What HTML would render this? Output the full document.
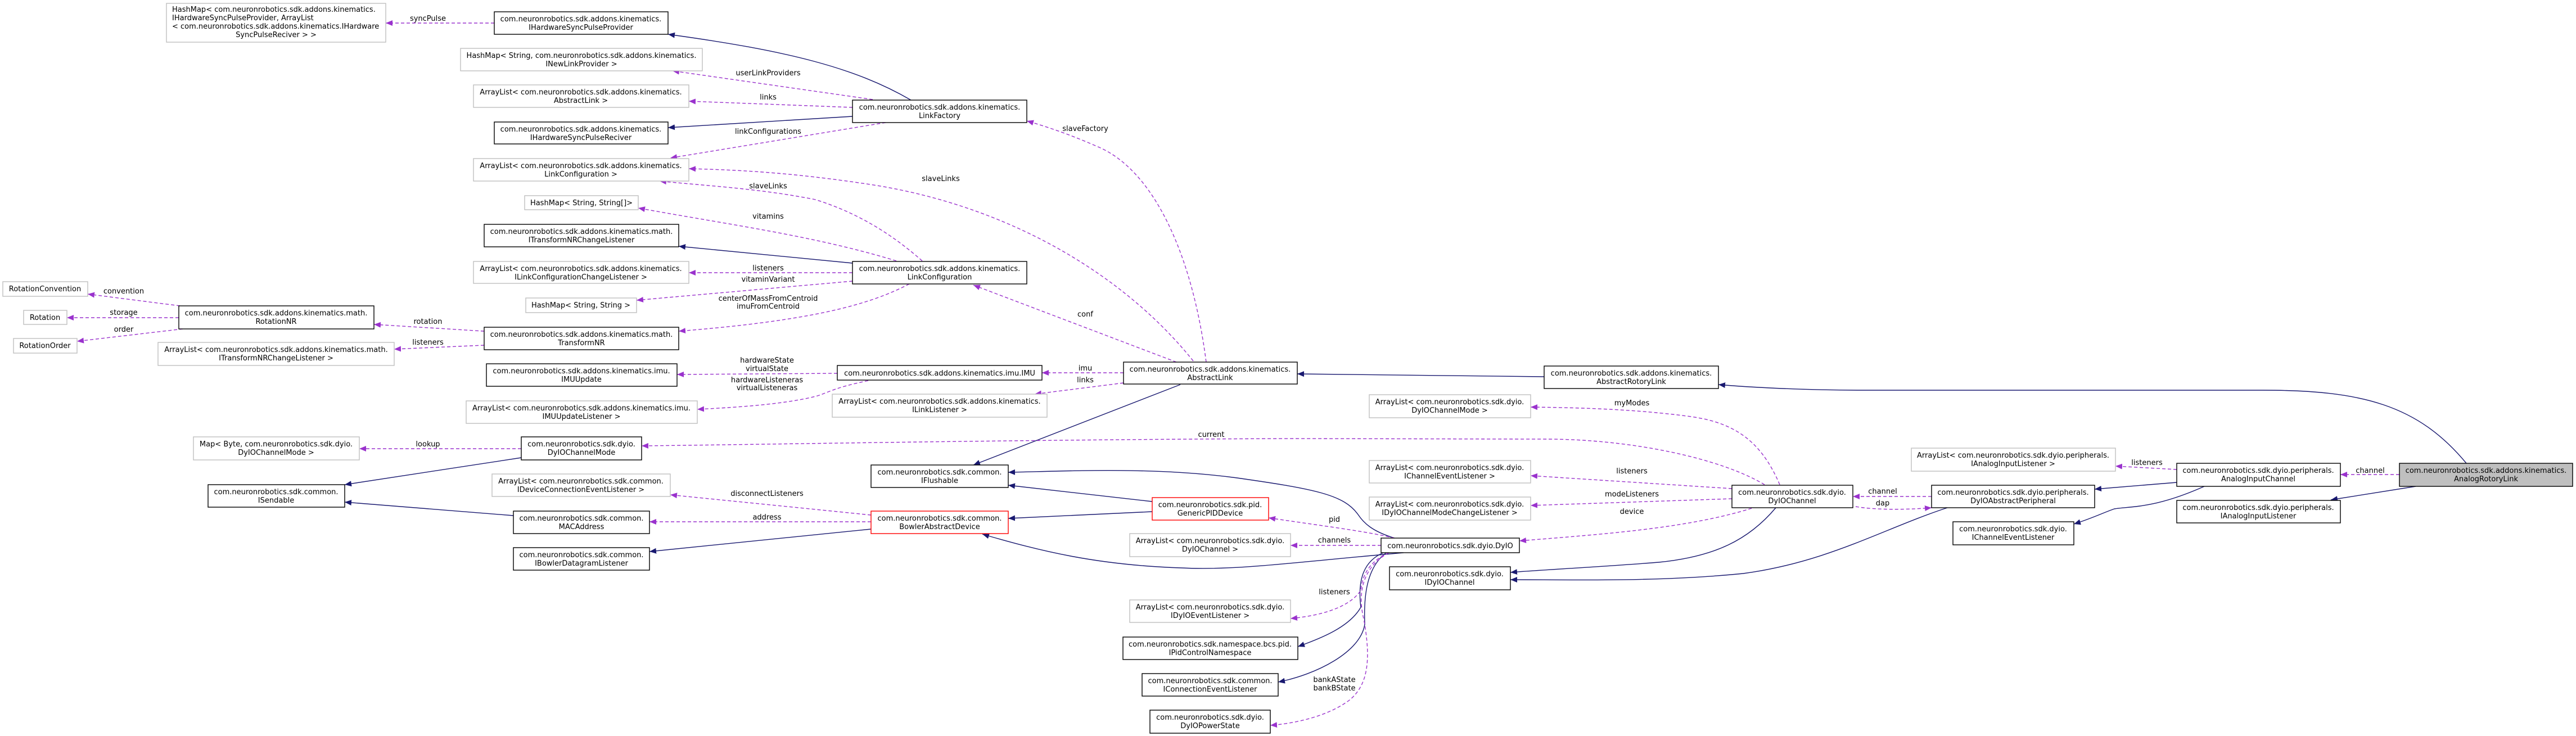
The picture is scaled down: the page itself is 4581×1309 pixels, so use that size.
<!DOCTYPE html>
<html><head><meta charset="utf-8"><style>
html,body{margin:0;padding:0;background:#fff;}
svg{display:block;}
text{font-family:"DejaVu Sans","Liberation Sans",sans-serif;font-size:13px;fill:#000;}
.nb{fill:#fff;stroke:#000;stroke-width:1.4;}
.ng{fill:#fff;stroke:#bfbfbf;stroke-width:1.4;}
.nr{fill:#fff;stroke:#ff0000;stroke-width:1.4;}
.s{fill:none;stroke:#191970;stroke-width:1.4;}
.d{fill:none;stroke:#9a32cd;stroke-width:1.4;stroke-dasharray:6,4;}
</style></head><body>
<svg width="4581" height="1309" viewBox="0 0 4581 1309" xmlns="http://www.w3.org/2000/svg">
<defs>
<marker id="an" markerUnits="userSpaceOnUse" markerWidth="14" markerHeight="10" refX="12" refY="5" orient="auto"><path d="M0,0 L12,5 L0,10 z" fill="#191970"/></marker>
<marker id="ap" markerUnits="userSpaceOnUse" markerWidth="14" markerHeight="10" refX="12" refY="5" orient="auto"><path d="M0,0 L12,5 L0,10 z" fill="#9a32cd"/></marker>
</defs>

<!-- solid edges -->
<g>
<path class="s" marker-end="url(#an)" d="M1620,178 C1520,120 1400,90 1188,61"/>
<path class="s" marker-end="url(#an)" d="M1516,207 L1188,227"/>
<path class="s" marker-end="url(#an)" d="M1516,468 L1207,438"/>
<path class="s" marker-end="url(#an)" d="M2099,684 L1731,827"/>
<path class="s" marker-end="url(#an)" d="M2746,670 L2307,665"/>
<path class="s" marker-end="url(#an)" d="M4386,824 C4300,720 4200,694 4025,694 L3310,694 C3200,694 3100,688 3056,684"/>
<path class="s" marker-end="url(#an)" d="M927,814 L613,862"/>
<path class="s" marker-end="url(#an)" d="M913,917 L613,893"/>
<path class="s" marker-end="url(#an)" d="M1549,941 L1155,981"/>
<path class="s" marker-end="url(#an)" d="M2049,892 L1793,863"/>
<path class="s" marker-end="url(#an)" d="M2049,910 L1793,922"/>
<path class="s" marker-end="url(#an)" d="M2480,957 C2440,945 2425,930 2415,915 C2390,880 2340,870 2200,850 C2050,830 1900,838 1793,840"/>
<path class="s" marker-end="url(#an)" d="M2496,983 C2300,1000 2200,1015 2100,1010 C1950,1005 1850,980 1747,950"/>
<path class="s" marker-end="url(#an)" d="M2460,983 C2420,1000 2415,1040 2420,1080 C2400,1115 2350,1135 2308,1150"/>
<path class="s" marker-end="url(#an)" d="M2465,983 C2430,1010 2425,1060 2427,1110 C2420,1160 2340,1200 2273,1213"/>
<path class="s" marker-end="url(#an)" d="M3158,903 C3110,960 3050,990 2950,1000 C2850,1008 2750,1013 2686,1018"/>
<path class="s" marker-end="url(#an)" d="M3463,903 C3350,940 3250,1000 3100,1020 C2950,1035 2800,1031 2686,1031"/>
<path class="s" marker-end="url(#an)" d="M3871,858 L3725,870"/>
<path class="s" marker-end="url(#an)" d="M3920,865 C3830,905 3790,900 3760,905 C3740,912 3720,922 3688,932"/>
<path class="s" marker-end="url(#an)" d="M4296,865 L4145,889"/>
</g>

<!-- dashed edges -->
<g>
<path class="d" marker-end="url(#ap)" d="M879,41 L686,41"/>
<path class="d" marker-end="url(#ap)" d="M1552,177 L1196,126"/>
<path class="d" marker-end="url(#ap)" d="M1516,191 L1225,180"/>
<path class="d" marker-end="url(#ap)" d="M1575,218 L1192,281"/>
<path class="d" marker-end="url(#ap)" d="M2122,642 C2000,490 1800,370 1560,330 C1400,305 1300,302 1225,300"/>
<path class="d" marker-end="url(#ap)" d="M1640,464 C1590,420 1530,380 1450,355 C1350,335 1250,330 1173,322"/>
<path class="d" marker-end="url(#ap)" d="M1594,464 C1450,420 1300,400 1135,370"/>
<path class="d" marker-end="url(#ap)" d="M1516,485 L1225,485"/>
<path class="d" marker-end="url(#ap)" d="M1516,500 L1132,534"/>
<path class="d" marker-end="url(#ap)" d="M1617,505 C1550,540 1450,570 1207,589"/>
<path class="d" marker-end="url(#ap)" d="M861,589 L665,577"/>
<path class="d" marker-end="url(#ap)" d="M861,614 L701,621"/>
<path class="d" marker-end="url(#ap)" d="M320,544 L156,523"/>
<path class="d" marker-end="url(#ap)" d="M318,565 L119,565"/>
<path class="d" marker-end="url(#ap)" d="M325,585 L137,607"/>
<path class="d" marker-end="url(#ap)" d="M2145,644 C2120,450 2050,300 1950,260 C1900,238 1860,225 1826,215"/>
<path class="d" marker-end="url(#ap)" d="M2092,644 L1731,507"/>
<path class="d" marker-end="url(#ap)" d="M1998,663 L1853,663"/>
<path class="d" marker-end="url(#ap)" d="M1998,681 L1840,701"/>
<path class="d" marker-end="url(#ap)" d="M1489,664 L1204,666"/>
<path class="d" marker-end="url(#ap)" d="M1544,677 C1480,690 1470,700 1450,705 C1390,720 1300,725 1240,728"/>
<path class="d" marker-end="url(#ap)" d="M3138,862 C3060,815 2900,781 2750,781 L2300,780 C1800,782 1400,790 1141,793"/>
<path class="d" marker-end="url(#ap)" d="M3165,862 C3130,780 3080,750 3000,740 C2900,727 2800,725 2722,724"/>
<path class="d" marker-end="url(#ap)" d="M3080,869 L2722,846"/>
<path class="d" marker-end="url(#ap)" d="M3080,887 L2722,899"/>
<path class="d" marker-end="url(#ap)" d="M3115,904 C3000,940 2850,950 2702,962"/>
<path class="d" marker-end="url(#ap)" d="M3435,883 L3295,883"/>
<path class="d" marker-end="url(#ap)" d="M3300,901 C3340,908 3400,906 3435,903"/>
<path class="d" marker-end="url(#ap)" d="M3871,835 L3762,829"/>
<path class="d" marker-end="url(#ap)" d="M4267,844 L4162,844"/>
<path class="d" marker-end="url(#ap)" d="M2480,957 C2430,945 2350,935 2256,921"/>
<path class="d" marker-end="url(#ap)" d="M2456,970 L2295,970"/>
<path class="d" marker-end="url(#ap)" d="M2470,983 C2430,1000 2422,1030 2420,1050 C2400,1080 2350,1095 2295,1100"/>
<path class="d" marker-end="url(#ap)" d="M2470,983 C2420,1010 2415,1060 2425,1100 C2440,1180 2430,1220 2400,1245 C2360,1275 2300,1287 2259,1290"/>
<path class="d" marker-end="url(#ap)" d="M927,798 L639,798"/>
<path class="d" marker-end="url(#ap)" d="M1549,916 L1192,880"/>
<path class="d" marker-end="url(#ap)" d="M1549,928 L1155,928"/>
</g>

<!-- edge labels -->
<g text-anchor="middle">
<text x="761" y="37">syncPulse</text>
<text x="220" y="522">convention</text>
<text x="220" y="560">storage</text>
<text x="220" y="590">order</text>
<text x="761" y="576">rotation</text>
<text x="761" y="613">listeners</text>
<text x="1366" y="134">userLinkProviders</text>
<text x="1366" y="177">links</text>
<text x="1366" y="238">linkConfigurations</text>
<text x="1366" y="335">slaveLinks</text>
<text x="1366" y="389">vitamins</text>
<text x="1366" y="481">listeners</text>
<text x="1366" y="501">vitaminVariant</text>
<text x="1366" y="535">centerOfMassFromCentroid</text>
<text x="1366" y="549">imuFromCentroid</text>
<text x="1930" y="233">slaveFactory</text>
<text x="1673" y="322">slaveLinks</text>
<text x="1930" y="563">conf</text>
<text x="1364" y="645">hardwareState</text>
<text x="1364" y="660">virtualState</text>
<text x="1364" y="680">hardwareListeneras</text>
<text x="1364" y="694">virtualListeneras</text>
<text x="1930" y="659">imu</text>
<text x="1930" y="680">links</text>
<text x="761" y="794">lookup</text>
<text x="2154" y="777">current</text>
<text x="1364" y="882">disconnectListeners</text>
<text x="1364" y="924">address</text>
<text x="2902" y="721">myModes</text>
<text x="2902" y="842">listeners</text>
<text x="2902" y="883">modeListeners</text>
<text x="2902" y="914">device</text>
<text x="3348" y="878">channel</text>
<text x="3348" y="899">dap</text>
<text x="2373" y="928">pid</text>
<text x="2373" y="965">channels</text>
<text x="2373" y="1057">listeners</text>
<text x="2373" y="1213">bankAState</text>
<text x="2373" y="1228">bankBState</text>
<text x="3818" y="827">listeners</text>
<text x="4215" y="841">channel</text>
</g>

<!-- nodes -->
<g>
<rect class="ng" x="296" y="6" width="390" height="69"/>
<text x="306" y="21">HashMap&lt; com.neuronrobotics.sdk.addons.kinematics.</text>
<text x="306" y="36">IHardwareSyncPulseProvider, ArrayList</text>
<text x="306" y="51">&lt; com.neuronrobotics.sdk.addons.kinematics.IHardware</text>
<text x="491" y="66" text-anchor="middle">SyncPulseReciver &gt; &gt;</text>
</g>
<g text-anchor="middle">
<rect class="nb" x="879" y="21" width="309" height="40"/>
<text x="1033" y="38">com.neuronrobotics.sdk.addons.kinematics.</text><text x="1033" y="53">IHardwareSyncPulseProvider</text>

<rect class="ng" x="819" y="86" width="430" height="40"/>
<text x="1034" y="103">HashMap&lt; String, com.neuronrobotics.sdk.addons.kinematics.</text><text x="1034" y="118">INewLinkProvider &gt;</text>

<rect class="ng" x="842" y="151" width="383" height="40"/>
<text x="1033" y="168">ArrayList&lt; com.neuronrobotics.sdk.addons.kinematics.</text><text x="1033" y="183">AbstractLink &gt;</text>

<rect class="nb" x="879" y="217" width="309" height="39"/>
<text x="1033" y="234">com.neuronrobotics.sdk.addons.kinematics.</text><text x="1033" y="249">IHardwareSyncPulseReciver</text>

<rect class="ng" x="842" y="282" width="383" height="40"/>
<text x="1033" y="299">ArrayList&lt; com.neuronrobotics.sdk.addons.kinematics.</text><text x="1033" y="314">LinkConfiguration &gt;</text>

<rect class="ng" x="933" y="348" width="202" height="25"/>
<text x="1034" y="365">HashMap&lt; String, String[]&gt;</text>

<rect class="nb" x="861" y="399" width="346" height="40"/>
<text x="1034" y="416">com.neuronrobotics.sdk.addons.kinematics.math.</text><text x="1034" y="431">ITransformNRChangeListener</text>

<rect class="ng" x="842" y="465" width="383" height="39"/>
<text x="1033" y="482">ArrayList&lt; com.neuronrobotics.sdk.addons.kinematics.</text><text x="1033" y="497">ILinkConfigurationChangeListener &gt;</text>

<rect class="ng" x="935" y="530" width="197" height="26"/>
<text x="1033" y="547">HashMap&lt; String, String &gt;</text>

<rect class="nb" x="861" y="582" width="346" height="40"/>
<text x="1034" y="599">com.neuronrobotics.sdk.addons.kinematics.math.</text><text x="1034" y="614">TransformNR</text>

<rect class="nb" x="865" y="647" width="339" height="40"/>
<text x="1034" y="664">com.neuronrobotics.sdk.addons.kinematics.imu.</text><text x="1034" y="679">IMUUpdate</text>

<rect class="ng" x="829" y="713" width="411" height="40"/>
<text x="1034" y="730">ArrayList&lt; com.neuronrobotics.sdk.addons.kinematics.imu.</text><text x="1034" y="745">IMUUpdateListener &gt;</text>

<rect class="nb" x="927" y="777" width="214" height="41"/>
<text x="1034" y="794">com.neuronrobotics.sdk.dyio.</text><text x="1034" y="809">DyIOChannelMode</text>

<rect class="ng" x="344" y="777" width="295" height="41"/>
<text x="491" y="794">Map&lt; Byte, com.neuronrobotics.sdk.dyio.</text><text x="491" y="809">DyIOChannelMode &gt;</text>

<rect class="nb" x="370" y="862" width="243" height="40"/>
<text x="491" y="879">com.neuronrobotics.sdk.common.</text><text x="491" y="894">ISendable</text>

<rect class="ng" x="875" y="843" width="317" height="40"/>
<text x="1033" y="860">ArrayList&lt; com.neuronrobotics.sdk.common.</text><text x="1033" y="875">IDeviceConnectionEventListener &gt;</text>

<rect class="nb" x="913" y="909" width="242" height="40"/>
<text x="1034" y="926">com.neuronrobotics.sdk.common.</text><text x="1034" y="941">MACAddress</text>

<rect class="nb" x="913" y="974" width="242" height="40"/>
<text x="1034" y="991">com.neuronrobotics.sdk.common.</text><text x="1034" y="1006">IBowlerDatagramListener</text>

<rect class="ng" x="5" y="501" width="151" height="26"/>
<text x="80" y="518">RotationConvention</text>
<rect class="ng" x="42" y="552" width="77" height="25"/>
<text x="80" y="569">Rotation</text>
<rect class="ng" x="24" y="602" width="113" height="26"/>
<text x="80" y="619">RotationOrder</text>

<rect class="nb" x="318" y="544" width="347" height="41"/>
<text x="491" y="561">com.neuronrobotics.sdk.addons.kinematics.math.</text><text x="491" y="576">RotationNR</text>

<rect class="ng" x="281" y="609" width="420" height="41"/>
<text x="491" y="626">ArrayList&lt; com.neuronrobotics.sdk.addons.kinematics.math.</text><text x="491" y="641">ITransformNRChangeListener &gt;</text>

<rect class="nb" x="1516" y="178" width="310" height="40"/>
<text x="1671" y="195">com.neuronrobotics.sdk.addons.kinematics.</text><text x="1671" y="210">LinkFactory</text>

<rect class="nb" x="1516" y="465" width="310" height="40"/>
<text x="1671" y="482">com.neuronrobotics.sdk.addons.kinematics.</text><text x="1671" y="497">LinkConfiguration</text>

<rect class="nb" x="1998" y="644" width="309" height="39"/>
<text x="2152" y="661">com.neuronrobotics.sdk.addons.kinematics.</text><text x="2152" y="676">AbstractLink</text>

<rect class="nb" x="1489" y="650" width="364" height="26"/>
<text x="1671" y="668">com.neuronrobotics.sdk.addons.kinematics.imu.IMU</text>

<rect class="ng" x="1480" y="701" width="382" height="41"/>
<text x="1671" y="718">ArrayList&lt; com.neuronrobotics.sdk.addons.kinematics.</text><text x="1671" y="733">ILinkListener &gt;</text>

<rect class="nb" x="1549" y="827" width="244" height="40"/>
<text x="1671" y="844">com.neuronrobotics.sdk.common.</text><text x="1671" y="859">IFlushable</text>

<rect class="nr" x="1549" y="909" width="244" height="40"/>
<text x="1671" y="926">com.neuronrobotics.sdk.common.</text><text x="1671" y="941">BowlerAbstractDevice</text>

<rect class="nr" x="2049" y="885" width="207" height="40"/>
<text x="2152" y="902">com.neuronrobotics.sdk.pid.</text><text x="2152" y="917">GenericPIDDevice</text>

<rect class="ng" x="2009" y="949" width="286" height="41"/>
<text x="2152" y="966">ArrayList&lt; com.neuronrobotics.sdk.dyio.</text><text x="2152" y="981">DyIOChannel &gt;</text>

<rect class="ng" x="2009" y="1067" width="286" height="40"/>
<text x="2152" y="1084">ArrayList&lt; com.neuronrobotics.sdk.dyio.</text><text x="2152" y="1099">IDyIOEventListener &gt;</text>

<rect class="nb" x="1997" y="1133" width="311" height="40"/>
<text x="2152" y="1150">com.neuronrobotics.sdk.namespace.bcs.pid.</text><text x="2152" y="1165">IPidControlNamespace</text>

<rect class="nb" x="2031" y="1198" width="242" height="40"/>
<text x="2152" y="1215">com.neuronrobotics.sdk.common.</text><text x="2152" y="1230">IConnectionEventListener</text>

<rect class="nb" x="2045" y="1263" width="214" height="41"/>
<text x="2152" y="1280">com.neuronrobotics.sdk.dyio.</text><text x="2152" y="1295">DyIOPowerState</text>

<rect class="nb" x="2746" y="651" width="310" height="40"/>
<text x="2901" y="668">com.neuronrobotics.sdk.addons.kinematics.</text><text x="2901" y="683">AbstractRotoryLink</text>

<rect class="ng" x="2435" y="702" width="287" height="41"/>
<text x="2578" y="719">ArrayList&lt; com.neuronrobotics.sdk.dyio.</text><text x="2578" y="734">DyIOChannelMode &gt;</text>

<rect class="ng" x="2435" y="819" width="287" height="40"/>
<text x="2578" y="836">ArrayList&lt; com.neuronrobotics.sdk.dyio.</text><text x="2578" y="851">IChannelEventListener &gt;</text>

<rect class="ng" x="2435" y="884" width="287" height="41"/>
<text x="2578" y="901">ArrayList&lt; com.neuronrobotics.sdk.dyio.</text><text x="2578" y="916">IDyIOChannelModeChangeListener &gt;</text>

<rect class="nb" x="3080" y="863" width="215" height="40"/>
<text x="3187" y="880">com.neuronrobotics.sdk.dyio.</text><text x="3187" y="895">DyIOChannel</text>

<rect class="nb" x="2456" y="957" width="246" height="26"/>
<text x="2579" y="975">com.neuronrobotics.sdk.dyio.DyIO</text>

<rect class="nb" x="2471" y="1008" width="215" height="41"/>
<text x="2578" y="1025">com.neuronrobotics.sdk.dyio.</text><text x="2578" y="1040">IDyIOChannel</text>

<rect class="ng" x="3399" y="797" width="363" height="41"/>
<text x="3580" y="814">ArrayList&lt; com.neuronrobotics.sdk.dyio.peripherals.</text><text x="3580" y="829">IAnalogInputListener &gt;</text>

<rect class="nb" x="3871" y="824" width="291" height="41"/>
<text x="4016" y="841">com.neuronrobotics.sdk.dyio.peripherals.</text><text x="4016" y="856">AnalogInputChannel</text>

<rect x="4267" y="824" width="308" height="41" fill="#bfbfbf" stroke="#000" stroke-width="1.4"/>
<text x="4421" y="841">com.neuronrobotics.sdk.addons.kinematics.</text><text x="4421" y="856">AnalogRotoryLink</text>

<rect class="nb" x="3435" y="863" width="290" height="40"/>
<text x="3580" y="880">com.neuronrobotics.sdk.dyio.peripherals.</text><text x="3580" y="895">DyIOAbstractPeripheral</text>

<rect class="nb" x="3473" y="928" width="215" height="41"/>
<text x="3580" y="945">com.neuronrobotics.sdk.dyio.</text><text x="3580" y="960">IChannelEventListener</text>

<rect class="nb" x="3871" y="890" width="291" height="40"/>
<text x="4016" y="907">com.neuronrobotics.sdk.dyio.peripherals.</text><text x="4016" y="922">IAnalogInputListener</text>
</g>
</svg>
</body></html>
